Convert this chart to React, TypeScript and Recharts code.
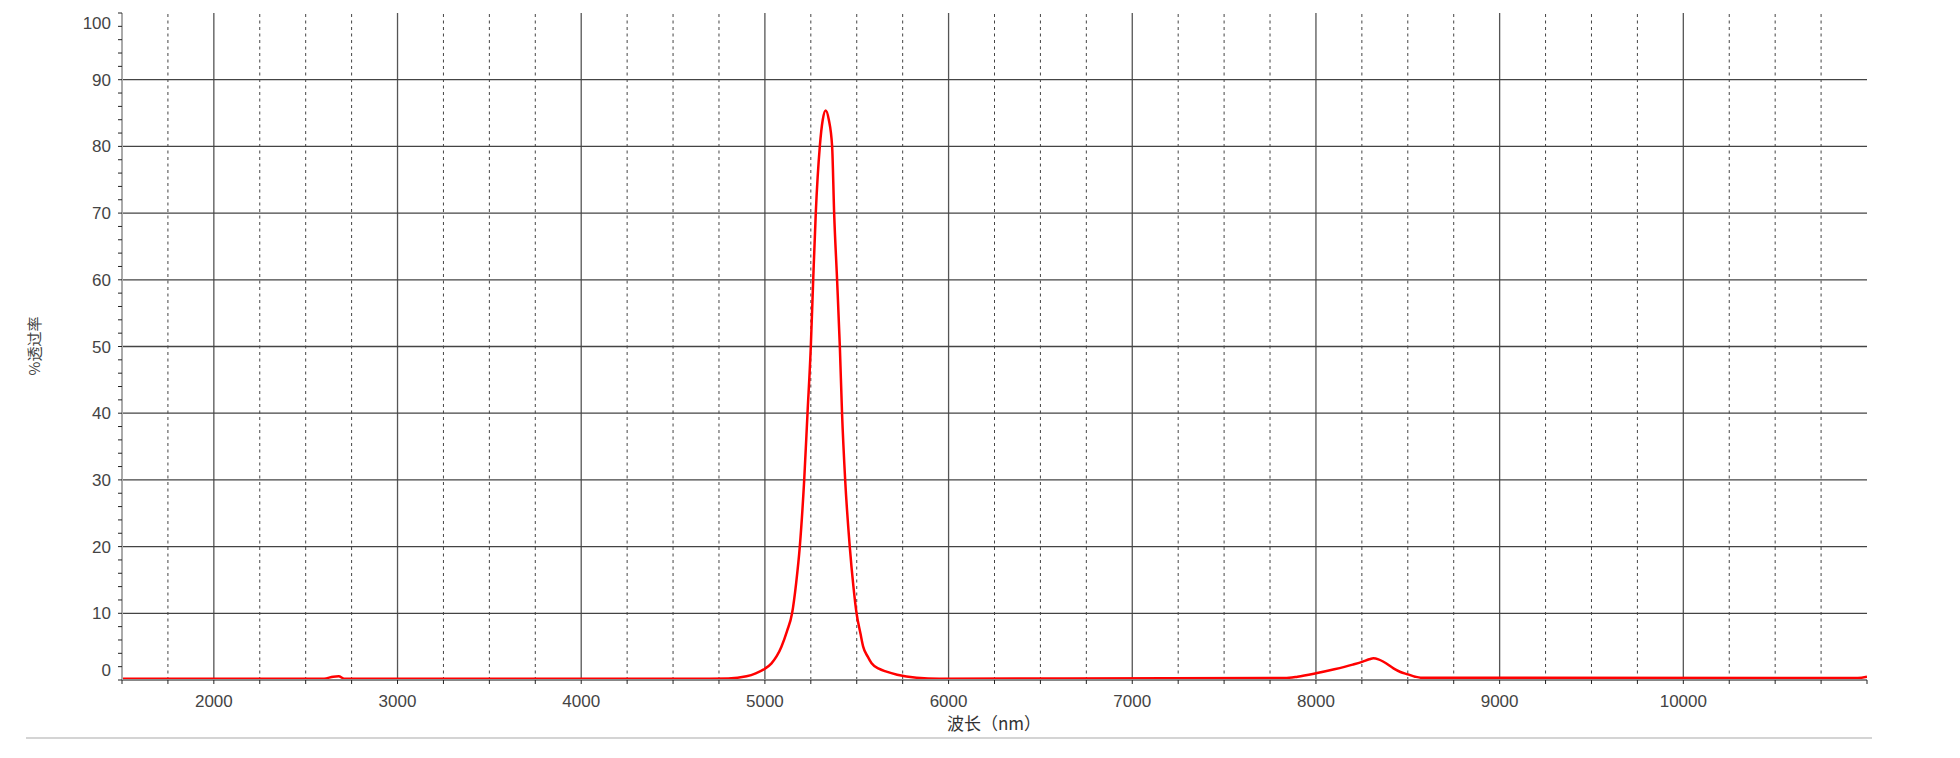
import React from 'react';
import { LineChart, Line, XAxis, YAxis, ReferenceLine } from 'recharts';

// wavelength (nm)
const wavelengths = [
  1500, 2600, 2650, 2680, 2710, 4700, 4800, 4900, 4950, 5000, 5036, 5065, 5090, 5120, 5148, 5170,
  5190, 5214, 5232, 5250, 5263, 5277, 5299, 5315, 5331, 5348, 5366, 5377, 5393, 5408, 5420, 5437,
  5462, 5482, 5499, 5520, 5535, 5560, 5581, 5620, 5662, 5720, 5826, 5950, 7830, 7900, 8000, 8100,
  8200, 8255, 8290, 8313, 8340, 8370, 8422, 8460, 8500, 8540, 8570, 10950, 11000,
];
// transmittance (%)
const transmittance = [
  0.2, 0.2, 0.5, 0.55, 0.2, 0.2, 0.22, 0.55, 1.0, 1.7, 2.5, 3.6, 5, 7.3, 10, 14.5,
  20, 30, 40, 50, 60, 70, 80, 84, 85.4, 84, 80, 70, 60, 50, 40, 30,
  20, 14, 10, 7, 5, 3.5, 2.5, 1.7, 1.25, 0.8, 0.35, 0.2, 0.3, 0.5, 1.0, 1.6,
  2.3, 2.75, 3.1, 3.25, 3.1, 2.7, 1.75, 1.2, 0.85, 0.5, 0.35, 0.3, 0.5,
];

const xTicks = [
  1500, 1750, 2000, 2250, 2500, 2750, 3000, 3250, 3500, 3750, 4000, 4250, 4500, 4750, 5000, 5250,
  5500, 5750, 6000, 6250, 6500, 6750, 7000, 7250, 7500, 7750, 8000, 8250, 8500, 8750, 9000, 9250,
  9500, 9750, 10000, 10250, 10500, 10750, 11000,
];
const xLabelTicks = [2000, 3000, 4000, 5000, 6000, 7000, 8000, 9000, 10000];
const xMajorGrid = [2000, 3000, 4000, 5000, 6000, 7000, 8000, 9000, 10000];
const xMinorGrid = [
  1750, 2250, 2500, 2750, 3250, 3500, 3750, 4250, 4500, 4750, 5250, 5500, 5750, 6250, 6500, 6750,
  7250, 7500, 7750, 8250, 8500, 8750, 9250, 9500, 9750, 10250, 10500, 10750,
];
const yTicks = [
  0, 2, 4, 6, 8, 10, 12, 14, 16, 18, 20, 22, 24, 26, 28, 30, 32, 34, 36, 38, 40, 42, 44, 46, 48, 50,
  52, 54, 56, 58, 60, 62, 64, 66, 68, 70, 72, 74, 76, 78, 80, 82, 84, 86, 88, 90, 92, 94, 96, 98, 100,
];
const yLabelTicks = [0, 10, 20, 30, 40, 50, 60, 70, 80, 90, 100];
const yGrid = [10, 20, 30, 40, 50, 60, 70, 80, 90];

const data = wavelengths.map((w, i) => ({ w, t: transmittance[i] }));

const FONT = '"Liberation Sans", Arial, sans-serif';

const XTick = (props: any) => {
  const { x, y, payload } = props;
  if (!xLabelTicks.includes(payload.value)) return <g />;
  return (
    <text x={x} y={y} dy={21} textAnchor="middle" fontSize={17} fontFamily={FONT} fill="#444">
      {payload.value}
    </text>
  );
};

const YTick = (props: any) => {
  const { x, y, payload } = props;
  if (!yLabelTicks.includes(payload.value)) return <g />;
  let shift = 0;
  if (payload.value === 100) shift = 10;
  if (payload.value === 0) shift = -10;
  return (
    <text x={x - 5} y={y + shift} dy={6} textAnchor="end" fontSize={17} fontFamily={FONT} fill="#444">
      {payload.value}
    </text>
  );
};

export default function App() {
  return (
    <div style={{ position: 'absolute', left: 0, top: 0, width: 1960, height: 758, background: '#fff' }}>
      <LineChart width={1960} height={758} data={data} margin={{ top: 13, right: 93, bottom: 0, left: 0 }}>
        <XAxis
          dataKey="w"
          type="number"
          domain={[1500, 11000]}
          ticks={xTicks}
          interval={0}
          height={78}
          tickSize={4}
          tick={<XTick />}
          axisLine={{ stroke: '#888', strokeWidth: 2 }}
          tickLine={{ stroke: '#222' }}
          allowDataOverflow
        />
        <YAxis
          type="number"
          domain={[0, 100]}
          ticks={yTicks}
          interval={0}
          width={122}
          tickSize={4}
          tick={<YTick />}
          axisLine={{ stroke: '#aaa', strokeWidth: 2 }}
          tickLine={{ stroke: '#222' }}
          allowDataOverflow
        />
        {xMinorGrid.map((v) => (
          <ReferenceLine key={'mx' + v} x={v} stroke="#444" strokeWidth={1} strokeDasharray="3 3.5" />
        ))}
        {xMajorGrid.map((v) => (
          <ReferenceLine key={'MX' + v} x={v} stroke="#555" strokeWidth={1.3} />
        ))}
        {yGrid.map((v) => (
          <ReferenceLine key={'y' + v} y={v} stroke="#444" strokeWidth={1.3} />
        ))}
        <Line
          type="monotone"
          dataKey="t"
          stroke="#ff0000"
          strokeWidth={2.5}
          dot={false}
          activeDot={false}
          isAnimationActive={false}
        />
      </LineChart>
      <div
        style={{
          position: 'absolute',
          left: 994,
          top: 722,
          transform: 'translate(-50%, -50%)',
          fontFamily: '"Noto Sans CJK SC", sans-serif',
          fontSize: 17,
          lineHeight: 1,
          color: '#333',
          whiteSpace: 'nowrap',
        }}
      >
        波长（nm）
      </div>
      <div
        style={{
          position: 'absolute',
          left: 33,
          top: 346,
          transform: 'translate(-50%, -50%) rotate(-90deg)',
          fontFamily: '"Noto Sans CJK SC", sans-serif',
          fontSize: 15,
          lineHeight: 1,
          color: '#444',
          whiteSpace: 'nowrap',
        }}
      >
        %透过率
      </div>
      <div style={{ position: 'absolute', left: 26, top: 737, width: 1846, height: 2, background: '#d4d4d4' }} />
    </div>
  );
}
